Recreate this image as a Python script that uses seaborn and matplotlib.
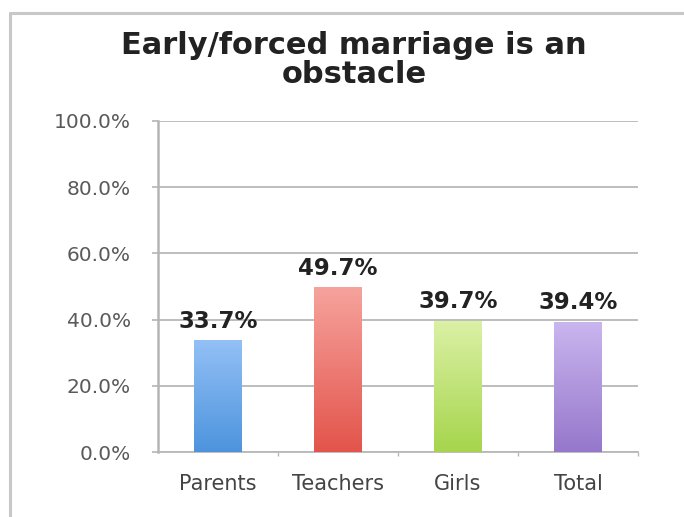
import numpy as np
import pandas as pd
import matplotlib
matplotlib.use("Agg")
import matplotlib.pyplot as plt
from matplotlib.colors import LinearSegmentedColormap
from matplotlib.lines import Line2D
import seaborn as sns

# ---- data ----
categories = ["Parents", "Teachers", "Girls", "Total"]
values = [33.7, 49.7, 39.7, 39.4]
value_labels = ["33.7%", "49.7%", "39.7%", "39.4%"]
y_ticks = [0, 20, 40, 60, 80, 100]
y_tick_labels = ["0.0%", "20.0%", "40.0%", "60.0%", "80.0%", "100.0%"]
title = "Early/forced marriage is an\nobstacle"

# ---- colours (top, bottom of gradient) ----
top_colors = ["#93c0f6", "#f6a39d", "#dbf1a6", "#cab6ef"]
bottom_colors = ["#4d94dd", "#e3544b", "#a6d54c", "#9677cb"]

sns.set_theme(style="white")
plt.rcParams["font.family"] = ["DejaVu Sans"]

fig = plt.figure(figsize=(6.84, 5.17), dpi=100)
fig.patch.set_facecolor("white")
ax = fig.add_axes([158 / 684, 1 - 452 / 517, 480 / 684, 331 / 517])

df = pd.DataFrame({"category": categories, "value": values})
sns.barplot(data=df, x="category", y="value", hue="category",
            palette=bottom_colors, width=0.4, legend=False, ax=ax,
            order=categories, hue_order=categories, zorder=3)

# gradient fill inside bars
for patch, ctop, cbot in zip(ax.patches, top_colors, bottom_colors):
    x0, y0 = patch.get_x(), patch.get_y()
    w, h = patch.get_width(), patch.get_height()
    cmap = LinearSegmentedColormap.from_list("g", [cbot, ctop])
    grad = np.linspace(0, 1, 256).reshape(-1, 1)
    im = ax.imshow(grad, cmap=cmap, origin="lower", aspect="auto",
                   extent=[x0, x0 + w, y0, y0 + h], zorder=4)
    im.set_clip_path(patch)
    patch.set_edgecolor("none")

# value labels
for i, (v, lab) in enumerate(zip(values, value_labels)):
    ax.annotate(lab, xy=(i, v), xytext=(0, 9), textcoords="offset points",
                ha="center", va="baseline", fontsize=16.5, fontweight="bold",
                color="#222222", zorder=6)

ax.set_xlim(-0.5, 3.5)
ax.set_ylim(0, 100)
ax.set_yticks(y_ticks)
ax.set_yticklabels(y_tick_labels)
ax.set_xlabel("")
ax.set_ylabel("")

ax.yaxis.grid(True, color="#b8b8b8", linewidth=1.3, zorder=0)
ax.set_axisbelow(True)
for s in ["top", "right"]:
    ax.spines[s].set_visible(False)
ax.spines["left"].set_color("#b5b5b5")
ax.spines["left"].set_linewidth(1.8)
ax.spines["bottom"].set_color("#b8b8b8")
ax.spines["bottom"].set_linewidth(1.3)

ax.tick_params(axis="y", which="major", left=True, length=4.5, width=1.2,
               color="#b5b5b5", pad=15, labelsize=14.5, labelcolor="#5a5a5a")
ax.tick_params(axis="x", which="major", bottom=False, pad=10,
               labelsize=15, labelcolor="#444444")
ax.set_xticks([0.5, 1.5, 2.5, 3.5], minor=True)
ax.tick_params(axis="x", which="minor", bottom=True, length=3, width=1,
               color="#b8b8b8")

# title
fig.text(354 / 684, 1 - 60 / 517, title, ha="center", va="center",
         fontsize=22, fontweight="bold", color="#222222", linespacing=1.02)

# outer chart frame (top and left edges visible)
fx = 10 / 684
fy = 1 - 13 / 517
fig.add_artist(Line2D([fx, fx], [0, fy], transform=fig.transFigure,
                      color="#c8c8c8", linewidth=2.2))
fig.add_artist(Line2D([fx, 1], [fy, fy], transform=fig.transFigure,
                      color="#c8c8c8", linewidth=2.2))

fig.savefig("out.png", dpi=100, facecolor="white")
